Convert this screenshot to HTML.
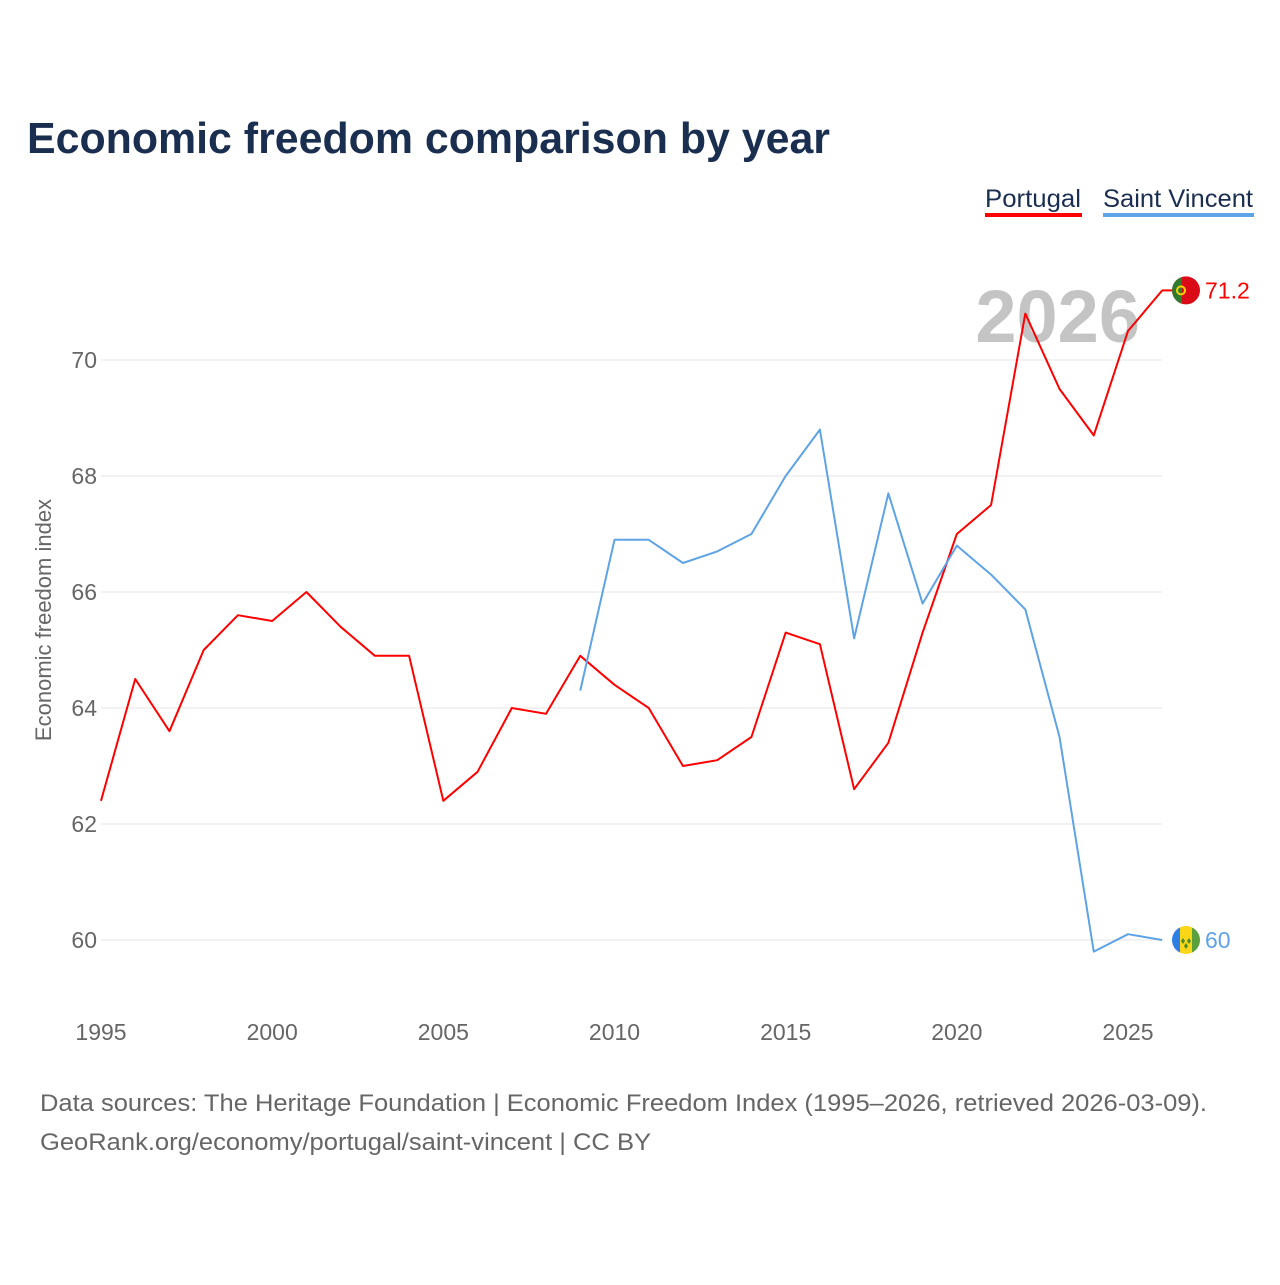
<!DOCTYPE html>
<html><head><meta charset="utf-8"><style>
body{margin:0;background:#fff;font-family:"Liberation Sans",sans-serif;}
</style></head><body>
<svg id="chart" width="1280" height="1280" xmlns="http://www.w3.org/2000/svg">
<rect width="1280" height="1280" fill="#fff"/>
<text x="27" y="153" font-size="44" font-weight="bold" fill="#1a2e50" textLength="803" lengthAdjust="spacingAndGlyphs">Economic freedom comparison by year</text>
<g><text x="985" y="207" font-size="25" fill="#1a2e50" textLength="96" lengthAdjust="spacingAndGlyphs">Portugal</text><rect x="985" y="213" width="97" height="4" fill="#ff0000"/></g>
<g><text x="1103" y="207" font-size="25" fill="#1a2e50" textLength="150" lengthAdjust="spacingAndGlyphs">Saint Vincent</text><rect x="1103" y="213" width="151" height="4" fill="#5ea3e6"/></g>
<text x="1140" y="342" font-size="74" font-weight="bold" fill="#c4c4c4" text-anchor="end">2026</text>
<g id="grid"></g><g id="xt"></g><g id="yt"></g><g id="series"></g>
<text transform="translate(51,620) rotate(-90)" font-size="22" fill="#666" text-anchor="middle">Economic freedom index</text>
<text x="40" y="1111" font-size="24" fill="#666" textLength="1167" lengthAdjust="spacingAndGlyphs">Data sources: The Heritage Foundation | Economic Freedom Index (1995–2026, retrieved 2026-03-09).</text>
<text x="40" y="1150" font-size="24" fill="#666" textLength="611" lengthAdjust="spacingAndGlyphs">GeoRank.org/economy/portugal/saint-vincent | CC BY</text>
</svg>
<script>
const portugalYears=[1995,1996,1997,1998,1999,2000,2001,2002,2003,2004,2005,2006,2007,2008,2009,2010,2011,2012,2013,2014,2015,2016,2017,2018,2019,2020,2021,2022,2023,2024,2025,2026];
const portugalValues=[62.4,64.5,63.6,65.0,65.6,65.5,66.0,65.4,64.9,64.9,62.4,62.9,64.0,63.9,64.9,64.4,64.0,63.0,63.1,63.5,65.3,65.1,62.6,63.4,65.3,67.0,67.5,70.8,69.5,68.7,70.5,71.2];
const svgYears=[2009,2010,2011,2012,2013,2014,2015,2016,2017,2018,2019,2020,2021,2022,2023,2024,2025,2026];
const svgValues=[64.3,66.9,66.9,66.5,66.7,67.0,68.0,68.8,65.2,67.7,65.8,66.8,66.3,65.7,63.5,59.8,60.1,60.0];
const xTicks=[1995,2000,2005,2010,2015,2020,2025];
const yTicks=[60,62,64,66,68,70];
const NS="http://www.w3.org/2000/svg";
const x=v=>101+(v-1995)*(1027/30);
const y=v=>360+(70-v)*58;
function el(t,a,p){const e=document.createElementNS(NS,t);for(const k in a)e.setAttribute(k,a[k]);document.getElementById(p).appendChild(e);return e;}
yTicks.forEach(t=>{
 const l=el('line',{x1:101,x2:1162,y1:y(t),y2:y(t),stroke:'#e6e6e6','stroke-width':1},'grid');
 
 
 const tx=el('text',{x:97,y:y(t)+8,'font-size':23,fill:'#666','text-anchor':'end'},'yt');tx.textContent=t;
 
 
});
xTicks.forEach(t=>{
 const tx=el('text',{x:x(t),y:1040,'font-size':23,fill:'#666','text-anchor':'middle'},'xt');tx.textContent=t;
 
 
});
function line(xs,vs,c,name){
 const p=el('polyline',{points:xs.map((d,i)=>x(d)+','+y(vs[i])).join(' '),fill:'none',stroke:c,'stroke-width':2,'stroke-linejoin':'round'},'series');
 
 
}
line(portugalYears,portugalValues,'#ff0000','portugal-line');
line(svgYears,svgValues,'#5ea3e6','saint-vincent-line');
const pv=portugalValues[portugalValues.length-1], sv=svgValues[svgValues.length-1];
const py=y(pv), sy=y(sv);
const g1=el('g',{},'series');


g1.innerHTML=`<line x1="1162" y1="${py}" x2="1172" y2="${py}" stroke="#ff0000" stroke-width="2"/><circle cx="1186" cy="${py}" r="14" fill="#da0b16"/><path d="M1182 ${py-13.4} A14 14 0 0 0 1182 ${py+13.4} Z" fill="#2f7a2f"/><circle cx="1181" cy="${py}" r="4" fill="none" stroke="#f6d400" stroke-width="2"/>`;
const t1=el('text',{x:1205,y:py+8,'font-size':23,fill:'#ff0000'},'series');t1.textContent=pv;


const g2=el('g',{},'series');


g2.innerHTML=`<clipPath id="cp"><circle cx="1186" cy="${sy}" r="14"/></clipPath><g clip-path="url(#cp)"><rect x="1172" y="${sy-14}" width="8" height="28" fill="#2e7ee6"/><rect x="1180" y="${sy-14}" width="12" height="28" fill="#f9d616"/><rect x="1192" y="${sy-14}" width="8" height="28" fill="#5aa03c"/><path d="M1183 ${sy-2} l2 3 -2 3 -2 -3z M1189 ${sy-2} l2 3 -2 3 -2 -3z M1186 ${sy+3} l2 3 -2 3 -2 -3z" fill="#4c8a2c"/></g>`;
const t2=el('text',{x:1205,y:sy+8,'font-size':23,fill:'#5ea3e6'},'series');t2.textContent=sv;


</script>
</body></html>
